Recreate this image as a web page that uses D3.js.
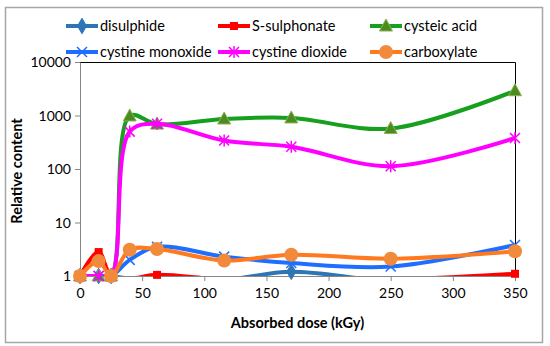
<!DOCTYPE html>
<html>
<head>
<meta charset="utf-8">
<script src="https://cdn.jsdelivr.net/npm/d3@7"></script>
<style>
  body { margin: 0; background: #fff; }
  svg { font-family: Lato, 'Open Sans', sans-serif; }
</style>
</head>
<body>
<svg width="550" height="346"></svg>
<script>
// Doses (kGy) and relative content per species
const doses = [0, 15, 25, 40, 62, 116, 170, 250, 350];
const disulphide = [1, 1, 1, 0.9, 0.9, 0.85, 1.2, 0.8, 0.85];
const sSulphonate = [1, 2.8, 1, 0.9, 1.05, 0.85, 0.8, 0.85, 1.1];
const cysteicAcid = [1, 1, 1, 980, 690, 860, 900, 570, 2900];
const cystineMonoxide = [1, 1, 1, 2.0, 3.5, 2.3, 1.75, 1.5, 3.8];
const cystineDioxide = [1, 1, 1, 500, 700, 340, 260, 113, 380];
const carboxylate = [1, 1.9, 1, 3.1, 3.2, 1.95, 2.5, 2.1, 2.9];
const yTicks = [1, 10, 100, 1000, 10000];
const xTicks = [0, 50, 100, 150, 200, 250, 300, 350];

const series = [
  { name: 'disulphide', values: disulphide, color: '#2E75B6', marker: 'diamond' },
  { name: 'S-sulphonate', values: sSulphonate, color: '#FF0000', marker: 'square' },
  { name: 'cysteic acid', values: cysteicAcid, color: '#16A01E', fill: '#4B8B22', stroke: '#8DB050', marker: 'triangle' },
  { name: 'cystine monoxide', values: cystineMonoxide, color: '#1E6FFF', marker: 'x' },
  { name: 'cystine dioxide', values: cystineDioxide, color: '#FF00FF', fill: '#FF00FF', marker: 'star' },
  { name: 'carboxylate', values: carboxylate, color: '#FF7A1E', fill: '#F28A3C', marker: 'circle' },
];

const svg = d3.select('svg');
const margin = { top: 62, right: 35, bottom: 70, left: 80 };
const width = 550;
const innerWidth = width - margin.left - margin.right;
const innerHeight = 276 - margin.top;

// Outer chart border
svg.append('rect')
  .attr('x', 5.5).attr('y', 7.5)
  .attr('width', 537).attr('height', 335)
  .attr('fill', 'none')
  .attr('stroke', '#A6A6A6')
  .attr('stroke-width', 1.5);

const x = d3.scaleLinear().domain([0, 350]).range([0, innerWidth]);
const y = d3.scaleLog().domain([1, 10000]).range([innerHeight, 0]);

const g = svg.append('g').attr('transform', `translate(${margin.left},${margin.top})`);

g.append('clipPath').attr('id', 'clip')
  .append('rect').attr('x', 0).attr('y', -2).attr('width', innerWidth).attr('height', innerHeight + 2);

// Plot area frame (top and right)
g.append('path')
  .attr('d', `M0,0.5H${innerWidth + 0.5}V${innerHeight}`)
  .attr('fill', 'none')
  .attr('stroke', '#000')
  .attr('stroke-width', 1);

// Axes
const xAxis = g.append('g')
  .attr('transform', `translate(0,${innerHeight})`)
  .call(d3.axisBottom(x).tickValues(xTicks).tickSize(5).tickSizeOuter(0));
const yAxis = g.append('g')
  .call(d3.axisLeft(y).tickValues(yTicks).tickFormat(d3.format('d')).tickSize(5).tickSizeOuter(0));
[xAxis, yAxis].forEach((ax) => {
  ax.attr('font-size', null).attr('font-family', null);
  ax.selectAll('path, line').attr('stroke', '#868686');
  ax.selectAll('text').attr('fill', '#000').style('font-size', '14px');
});
xAxis.selectAll('text').attr('y', 12).attr('dy', '0.71em');
yAxis.selectAll('text').attr('x', -9).attr('dy', '0.35em');

// Axis titles
svg.append('text')
  .attr('x', margin.left + innerWidth / 2)
  .attr('y', 328)
  .attr('text-anchor', 'middle')
  .attr('font-size', '14.5px')
  .attr('font-weight', 'bold')
  .text('Absorbed dose (kGy)');

svg.append('text')
  .attr('transform', `translate(22,${margin.top + innerHeight / 2 + 2}) rotate(-90)`)
  .attr('text-anchor', 'middle')
  .attr('font-size', '14.5px')
  .attr('font-weight', 'bold')
  .text('Relative content');

// Marker drawing
function drawMarker(sel, s) {
  const fill = s.fill || s.color;
  const stroke = s.stroke || s.color;
  if (s.marker === 'diamond') {
    sel.append('path').attr('d', d3.symbol(d3.symbolDiamond, 70)()).attr('fill', fill).attr('stroke', stroke);
  } else if (s.marker === 'square') {
    sel.append('rect').attr('x', -4).attr('y', -4).attr('width', 8).attr('height', 8).attr('fill', fill);
  } else if (s.marker === 'triangle') {
    sel.append('path').attr('d', 'M0,-7L6.5,5L-6.5,5Z').attr('fill', fill).attr('stroke', stroke).attr('stroke-width', 1);
  } else if (s.marker === 'x') {
    sel.append('path').attr('d', 'M-5,-5L5,5M-5,5L5,-5').attr('stroke', stroke).attr('stroke-width', 1.5);
  } else if (s.marker === 'star') {
    sel.append('path').attr('d', 'M-5,-5L5,5M-5,5L5,-5M0,-6V6').attr('stroke', stroke).attr('stroke-width', 1.5);
  } else if (s.marker === 'circle') {
    sel.append('circle').attr('r', 7).attr('fill', fill);
  }
}

const line = d3.line()
  .x((d) => x(d[0]))
  .y((d) => y(d[1]))
  .curve(d3.curveCatmullRom.alpha(0.5));

series.forEach((s) => {
  const pts = doses.map((d, i) => [d, s.values[i]]);
  g.append('path')
    .datum(pts)
    .attr('clip-path', 'url(#clip)')
    .attr('fill', 'none')
    .attr('stroke', s.color)
    .attr('stroke-width', 4)
    .attr('d', line);
  g.selectAll(null)
    .data(pts.filter((p) => p[1] >= 1))
    .enter()
    .append('g')
    .attr('transform', (p) => `translate(${x(p[0])},${y(p[1])})`)
    .each(function () { drawMarker(d3.select(this), s); });
});

// Legend
const legendCols = [66, 218, 370];
const legendRows = [26, 52];
series.forEach((s, i) => {
  const lg = svg.append('g')
    .attr('transform', `translate(${legendCols[i % 3]},${legendRows[Math.floor(i / 3)]})`);
  lg.append('line').attr('x1', 0).attr('x2', 32).attr('y1', 0).attr('y2', 0)
    .attr('stroke', s.color).attr('stroke-width', 4);
  drawMarker(lg.append('g').attr('transform', 'translate(16,0)'), s);
  lg.append('text').attr('x', 34).attr('dy', '0.35em').attr('font-size', '14.5px').text(s.name);
});
</script>
</body>
</html>
